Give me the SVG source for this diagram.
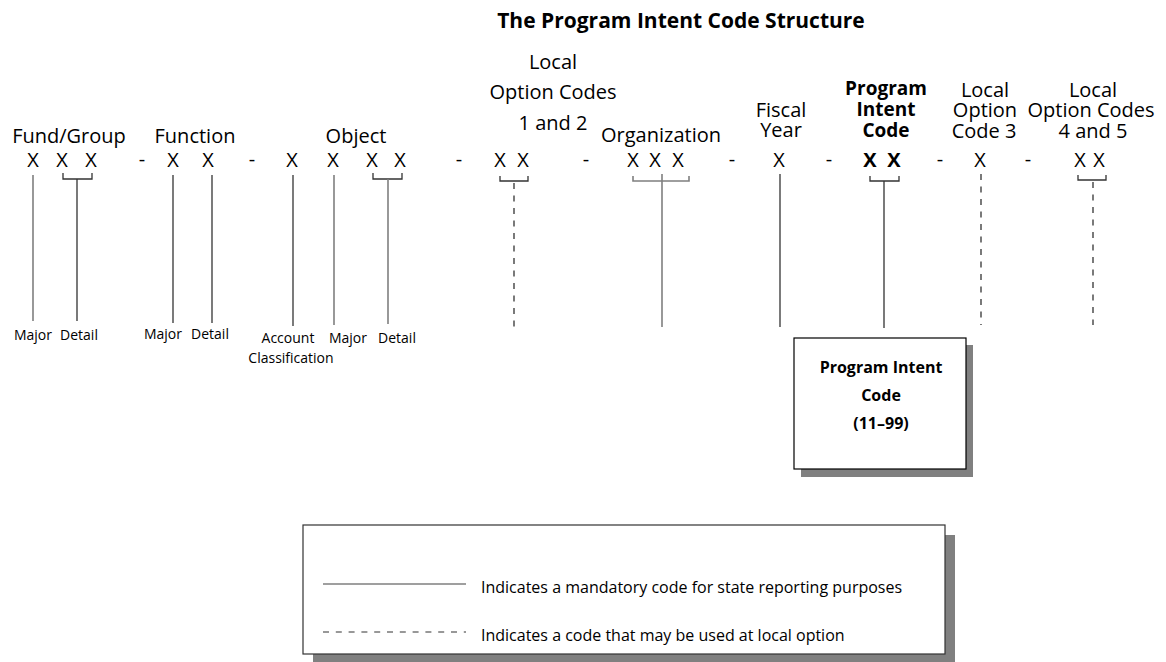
<svg xmlns="http://www.w3.org/2000/svg" width="1166" height="662" viewBox="0 0 1166 662">
<style>
text{font-family:"Open Sans","Liberation Sans",sans-serif;fill:#000;text-anchor:middle}
.lab{font-size:20px}
.b{font-weight:bold}
.sub{font-size:14px}
.sol{stroke:#333;stroke-width:1.3;fill:none}
.gry{stroke:#7f7f7f;stroke-width:1.6;fill:none}
.dsh{stroke:#333;stroke-width:1.3;fill:none;stroke-dasharray:6 6.5}
.leg{font-size:16px;text-anchor:start}
.box{font-size:16px;font-weight:bold}
</style>
<rect width="1166" height="662" fill="#fff"/>
<text id="title" x="681" y="28" class="b" style="font-size:21px">The Program Intent Code Structure</text>

<g id="fund-group">
<text class="lab" x="69" y="143">Fund/Group</text>
<text class="lab" x="33" y="167">X</text><text class="lab" x="62" y="167">X</text><text class="lab" x="91" y="167">X</text>
<text class="sub" x="33" y="340">Major</text><text class="sub" x="79" y="340">Detail</text>
</g>
<text class="lab" x="142" y="166">-</text>
<g id="function">
<text class="lab" x="195" y="143">Function</text>
<text class="lab" x="173" y="167">X</text><text class="lab" x="208" y="167">X</text>
<text class="sub" x="163" y="339">Major</text><text class="sub" x="210" y="339">Detail</text>
</g>
<text class="lab" x="252" y="166">-</text>
<g id="object">
<text class="lab" x="356" y="143">Object</text>
<text class="lab" x="292" y="167">X</text><text class="lab" x="333" y="167">X</text><text class="lab" x="372" y="167">X</text><text class="lab" x="400" y="167">X</text>
<text class="sub" x="288" y="343">Account</text><text class="sub" x="291" y="363">Classification</text>
<text class="sub" x="348" y="343">Major</text><text class="sub" x="397" y="343">Detail</text>
</g>
<text class="lab" x="459" y="166">-</text>
<g id="local-1-2">
<text class="lab" x="553" y="69">Local</text>
<text class="lab" x="553" y="99">Option Codes</text>
<text class="lab" x="553" y="130">1 and 2</text>
<text class="lab" x="500" y="167">X</text><text class="lab" x="523" y="167">X</text>
</g>
<text class="lab" x="586" y="166">-</text>
<g id="organization">
<text class="lab" x="661" y="142">Organization</text>
<text class="lab" x="633" y="167">X</text><text class="lab" x="655" y="167">X</text><text class="lab" x="678" y="167">X</text>
</g>
<text class="lab" x="732" y="166">-</text>
<g id="fiscal-year">
<text class="lab" x="781" y="117">Fiscal</text>
<text class="lab" x="781" y="137">Year</text>
<text class="lab" x="779" y="167">X</text>
</g>
<text class="lab" x="829" y="166">-</text>
<g id="program-intent-code">
<text class="lab b" x="886" y="95" style="font-size:19px">Program</text>
<text class="lab b" x="886" y="116" style="font-size:19px">Intent</text>
<text class="lab b" x="886" y="137" style="font-size:19px">Code</text>
<text class="lab b" x="870" y="167">X</text><text class="lab b" x="894" y="167">X</text>
</g>
<text class="lab" x="940" y="166">-</text>
<g id="local-3">
<text class="lab" x="985" y="97">Local</text>
<text class="lab" x="985" y="117">Option</text>
<text class="lab" x="984" y="138">Code 3</text>
<text class="lab" x="980" y="167">X</text>
</g>
<text class="lab" x="1028" y="166">-</text>
<g id="local-4-5">
<text class="lab" x="1093" y="97">Local</text>
<text class="lab" x="1091" y="117">Option Codes</text>
<text class="lab" x="1093" y="138">4 and 5</text>
<text class="lab" x="1080" y="167">X</text><text class="lab" x="1099" y="167">X</text>
</g>

<g id="connectors">
<line class="gry" x1="33" y1="175" x2="33" y2="321"/>
<path class="sol" d="M63 173V179H92V173M77 179V321"/>
<line class="sol" x1="173" y1="175" x2="173" y2="323"/>
<line class="sol" x1="212" y1="175" x2="212" y2="323"/>
<line class="sol" x1="293" y1="175" x2="293" y2="326"/>
<line class="gry" x1="334" y1="175" x2="334" y2="325"/>
<path class="sol" d="M373 173V179H402V173"/>
<line class="gry" x1="388" y1="179" x2="388" y2="324"/>
<path class="sol" d="M500 176V181H528V176"/>
<line class="dsh" x1="514" y1="183" x2="514" y2="329"/>
<path class="gry" d="M633 176V181H689V176"/>
<line class="gry" x1="662" y1="174" x2="662" y2="327"/>
<line class="sol" x1="780" y1="174" x2="780" y2="327"/>
<path class="sol" d="M870 176V181H899V176M884 181V328"/>
<line class="dsh" x1="981" y1="174" x2="981" y2="325"/>
<path class="sol" d="M1078 175V180H1106V175"/>
<line class="dsh" x1="1093" y1="182" x2="1093" y2="325"/>
</g>

<g id="pic-box">
<rect x="801" y="345" width="172" height="132" fill="#808080"/>
<rect x="794" y="338" width="172" height="131" fill="#fff" stroke="#000" stroke-width="1.2"/>
<text class="box" x="881" y="373">Program Intent</text>
<text class="box" x="881" y="401">Code</text>
<text class="box" x="881" y="429">(11–99)</text>
</g>

<g id="legend">
<rect x="313" y="535" width="642" height="127" fill="#808080"/>
<rect x="303" y="525" width="642" height="129" fill="#fff" stroke="#333" stroke-width="1.2"/>
<line x1="323" y1="584" x2="466" y2="584" stroke="#7f7f7f" stroke-width="1.6"/>
<text class="leg" x="481" y="593">Indicates a mandatory code for state reporting purposes</text>
<line x1="323" y1="632" x2="466" y2="632" stroke="#333" stroke-width="1.2" stroke-dasharray="6 6.8"/>
<text class="leg" x="481" y="641">Indicates a code that may be used at local option</text>
</g>
</svg>
